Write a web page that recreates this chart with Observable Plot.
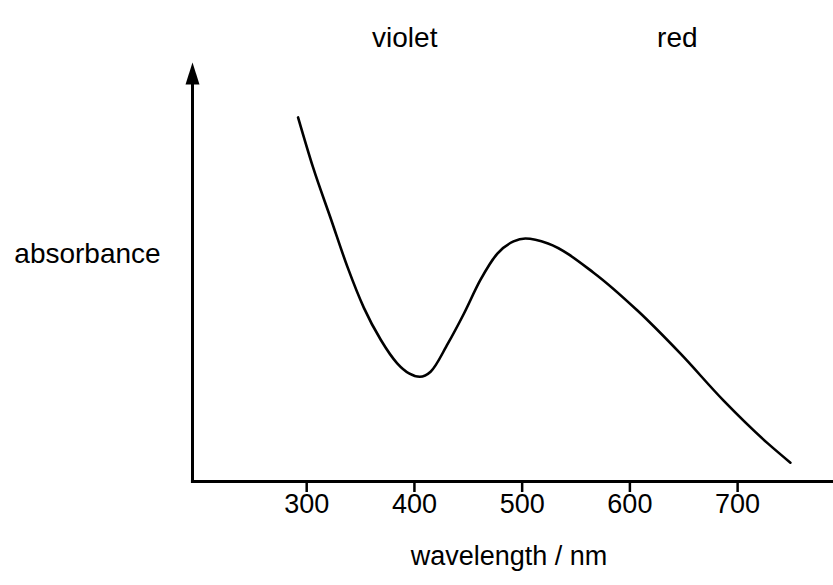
<!DOCTYPE html>
<html>
<head>
<meta charset="utf-8">
<script src="https://cdn.jsdelivr.net/npm/d3@7"></script>
<script src="https://cdn.jsdelivr.net/npm/@observablehq/plot@0.6"></script>
<style>
  html, body { margin: 0; padding: 0; background: #fff; }
  #chart svg { display: block; }
</style>
</head>
<body>
<div id="chart"></div>
<script>
// Wavelength (nm) of each traced point on the absorption curve
const wavelengths = [292, 306, 322, 338, 353, 369, 384, 395, 405, 415, 431, 446, 461, 477, 492, 503, 524, 566, 607, 647, 687, 728, 749];
// Absorbance (arbitrary units, 0 = x axis, 1 = top of y axis)
const absorbance = [0.869, 0.749, 0.630, 0.511, 0.415, 0.337, 0.282, 0.258, 0.250, 0.262, 0.329, 0.401, 0.480, 0.544, 0.573, 0.580, 0.568, 0.499, 0.408, 0.305, 0.193, 0.091, 0.045];
// Tick labels on the wavelength axis
const tickValues = [300, 400, 500, 600, 700];
// Colour annotations above the plot
const colourNames = ["violet", "red"];
const colourWavelengths = [391, 644];
// Axis extents
const xDomain = [194, 789];
const yDomain = [0, 1];

const spectrum = wavelengths.map((w, i) => ({wavelength: w, absorbance: absorbance[i]}));
const colours = colourNames.map((n, i) => ({name: n, wavelength: colourWavelengths[i]}));

const font = "'Liberation Sans', Arial, Helvetica, sans-serif";

const arrowHead = {
  draw(context) {
    context.moveTo(0, 0);
    context.lineTo(-7, 22);
    context.lineTo(7, 22);
    context.closePath();
  }
};

const chart = Plot.plot({
  width: 833,
  height: 585,
  marginLeft: 192,
  marginRight: 0,
  marginTop: 62,
  marginBottom: 104,
  style: {fontFamily: font, background: "#fff", color: "#000"},
  x: {domain: xDomain},
  y: {domain: yDomain},
  marks: [
    Plot.axisX({ticks: tickValues, tickSize: 11, tickFormat: () => "", strokeWidth: 2.5, label: null}),
    Plot.text(tickValues, {x: d => d, text: d => String(d), frameAnchor: "bottom", dy: 31, fontSize: 27, fill: "#000"}),
    Plot.axisY({ticks: [], label: null, tickSize: 0}),
    Plot.ruleY([yDomain[0]], {x1: xDomain[0] - 1, x2: xDomain[1], stroke: "#000", strokeWidth: 3}),
    Plot.ruleX([xDomain[0]], {y1: yDomain[0], y2: yDomain[1] * 0.97, stroke: "#000", strokeWidth: 3}),
    Plot.dot([{x: xDomain[0], y: yDomain[1]}], {x: "x", y: "y", symbol: arrowHead, r: 5, fill: "#000", stroke: null}),
    Plot.line(spectrum, {x: "wavelength", y: "absorbance", curve: "monotone-x", stroke: "#000", strokeWidth: 2.6}),
    Plot.text(colours, {x: "wavelength", text: "name", frameAnchor: "top", dy: -35, fontSize: 28, fill: "#000"}),
    Plot.text(["absorbance"], {text: d => d, frameAnchor: "left", textAnchor: "middle", dx: -105, dy: -18, fontSize: 28, fill: "#000"}),
    Plot.text(["wavelength / nm"], {text: d => d, frameAnchor: "bottom", dx: -4, dy: 83, fontSize: 27, fill: "#000"})
  ]
});
document.getElementById("chart").append(chart);
</script>
</body>
</html>
